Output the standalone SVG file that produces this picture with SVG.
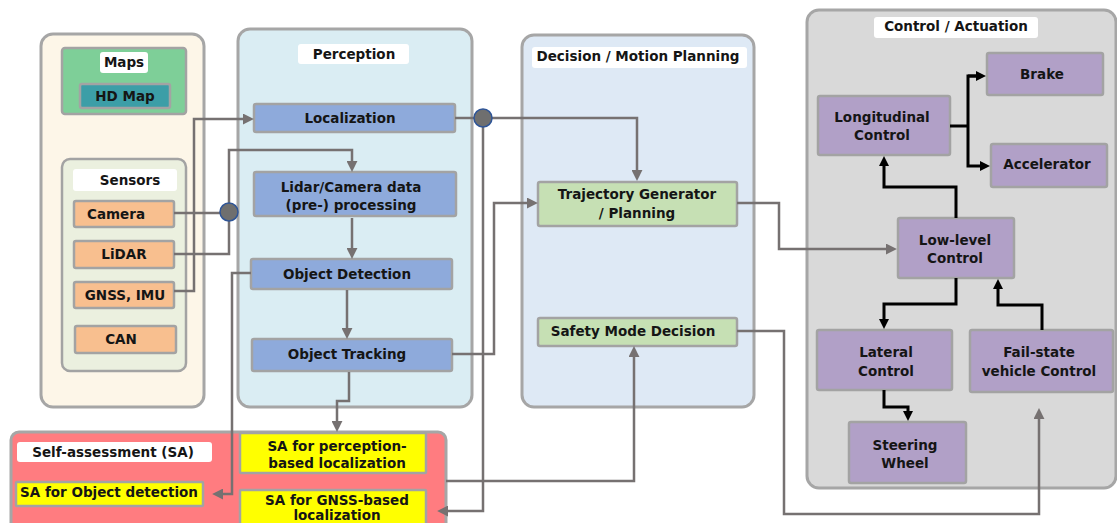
<svg xmlns="http://www.w3.org/2000/svg" width="1117" height="523" viewBox="0 0 1117 523">
<style>
text{font-family:"DejaVu Sans","Liberation Sans",sans-serif;font-weight:bold;font-size:13.5px;fill:#151515;text-anchor:middle}
.panel{stroke:#a6a6a6;stroke-width:3}
.box{stroke:#a3a3a3;stroke-width:2.5}
.lbl{fill:#ffffff}
.c{fill:none;stroke:#767171;stroke-width:2.5}
.k{fill:none;stroke:#000000;stroke-width:3}
.sens{fill:#f8bf8f}
.per{fill:#8eaadb}
.dec{fill:#c6e0b4}
.ctl{fill:#b1a0c7}
.sa{fill:#ffff00}
</style>
<defs>
<marker id="ag" viewBox="0 0 10 10" refX="1" refY="5" markerWidth="11" markerHeight="11" markerUnits="userSpaceOnUse" orient="auto"><path d="M0,0 L10,5 L0,10 z" fill="#767171"/></marker>
<marker id="ak" viewBox="0 0 10 10" refX="1" refY="5" markerWidth="10" markerHeight="10" markerUnits="userSpaceOnUse" orient="auto"><path d="M0,0 L10,5 L0,10 z" fill="#000000"/></marker>
</defs>

<!-- panels -->
<g id="panel-left"><rect class="panel" x="41" y="34" width="163" height="373" rx="12" fill="#fdf6e8"/></g>
<g id="panel-perception"><rect class="panel" x="238" y="29" width="234" height="378" rx="12" fill="#daedf3"/><rect class="lbl" x="298" y="44" width="111" height="20" rx="3"/><text x="354" y="59">Perception</text></g>
<g id="panel-decision"><rect class="panel" x="522" y="35" width="232" height="372" rx="12" fill="#dee9f5"/><rect class="lbl" x="532" y="47" width="215" height="21" rx="3"/><text x="638" y="61">Decision / Motion Planning</text></g>
<g id="panel-control"><rect class="panel" x="807" y="10" width="309" height="478" rx="12" fill="#d9d9d9"/><rect class="lbl" x="874" y="17" width="164" height="21" rx="3"/><text x="956" y="31">Control / Actuation</text></g>
<g id="panel-sa"><rect class="panel" x="11" y="432" width="435" height="110" rx="8" fill="#ff7c80"/><rect class="lbl" x="17" y="442" width="195" height="20" rx="3"/><text x="113" y="457">Self-assessment (SA)</text></g>

<!-- left -->
<g id="maps"><rect class="box" x="62" y="48" width="124" height="66" rx="3" fill="#7ecf98"/><rect class="lbl" x="100" y="52" width="48" height="21" rx="3"/><text x="124" y="67">Maps</text></g>
<g id="hd-map"><rect class="box" x="80" y="84" width="90" height="24" rx="2" fill="#3c9ea7"/><text x="125" y="101">HD Map</text></g>
<g id="sensors"><rect class="box" x="62" y="159" width="124" height="212" rx="8" fill="#ebf0df"/><rect class="lbl" x="73" y="169" width="104" height="22" rx="3"/><text x="130" y="185">Sensors</text></g>
<g id="camera"><rect class="box sens" x="74" y="201" width="100" height="26" rx="2"/><text x="116" y="219">Camera</text></g>
<g id="lidar"><rect class="box sens" x="74" y="241" width="100" height="27" rx="2"/><text x="124" y="259">LiDAR</text></g>
<g id="gnss"><rect class="box sens" x="74" y="282" width="100" height="26" rx="2"/><text x="125" y="300">GNSS, IMU</text></g>
<g id="can"><rect class="box sens" x="75" y="326" width="101" height="27" rx="2"/><text x="121" y="344">CAN</text></g>

<!-- perception -->
<g id="localization"><rect class="box per" x="254" y="104" width="201" height="28" rx="2"/><text x="350" y="123">Localization</text></g>
<g id="preprocessing"><rect class="box per" x="254" y="172" width="202" height="44" rx="2"/><text x="351" y="192">Lidar/Camera data</text><text x="351" y="210">(pre-) processing</text></g>
<g id="object-detection"><rect class="box per" x="251" y="259" width="201" height="30" rx="2"/><text x="347" y="279">Object Detection</text></g>
<g id="object-tracking"><rect class="box per" x="252" y="339" width="200" height="32" rx="2"/><text x="347" y="359">Object Tracking</text></g>

<!-- decision -->
<g id="trajectory"><rect class="box dec" x="538" y="182" width="199" height="44" rx="2"/><text x="637" y="199">Trajectory Generator</text><text x="637" y="218">/ Planning</text></g>
<g id="safety-mode"><rect class="box dec" x="538" y="318" width="199" height="28" rx="2"/><text x="633" y="336">Safety Mode Decision</text></g>

<!-- control -->
<g id="brake"><rect class="box ctl" x="987" y="53" width="116" height="42" rx="2"/><text x="1042" y="79">Brake</text></g>
<g id="longitudinal"><rect class="box ctl" x="818" y="96" width="132" height="59" rx="2"/><text x="882" y="122">Longitudinal</text><text x="882" y="140">Control</text></g>
<g id="accelerator"><rect class="box ctl" x="991" y="144" width="116" height="43" rx="2"/><text x="1047" y="169">Accelerator</text></g>
<g id="low-level"><rect class="box ctl" x="898" y="218" width="116" height="60" rx="2"/><text x="955" y="245">Low-level</text><text x="955" y="263">Control</text></g>
<g id="lateral"><rect class="box ctl" x="817" y="330" width="135" height="60" rx="2"/><text x="886" y="357">Lateral</text><text x="886" y="376">Control</text></g>
<g id="fail-state"><rect class="box ctl" x="970" y="330" width="143" height="62" rx="2"/><text x="1039" y="357">Fail-state</text><text x="1039" y="376">vehicle Control</text></g>
<g id="steering"><rect class="box ctl" x="849" y="422" width="117" height="61" rx="2"/><text x="905" y="450">Steering</text><text x="905" y="468">Wheel</text></g>

<!-- SA -->
<g id="sa-perception"><rect class="box sa" x="240" y="433" width="186" height="40" rx="1"/><text x="337" y="451">SA for perception-</text><text x="337" y="468">based localization</text></g>
<g id="sa-object"><rect class="box sa" x="16" y="482" width="187" height="24" rx="1"/><text x="109" y="497">SA for Object detection</text></g>
<g id="sa-gnss"><rect class="box sa" x="240" y="490" width="186" height="50" rx="1"/><text x="337" y="505">SA for GNSS-based</text><text x="337" y="520">localization</text></g>

<!-- connectors -->
<g id="connectors">
<path class="c" d="M174,213 H229"/>
<path class="c" d="M174,254 H229 V212"/>
<path class="c" d="M229,212 V150 H352 V162" marker-end="url(#ag)"/>
<path class="c" d="M174,291 H194 V119 H244" marker-end="url(#ag)"/>
<path class="c" d="M455,118 H483"/>
<path class="c" d="M483,118 H637 V171" marker-end="url(#ag)"/>
<path class="c" d="M483,118 V511 H447" marker-end="url(#ag)"/>
<path class="c" d="M352,218 V249" marker-end="url(#ag)"/>
<path class="c" d="M347,290 V329" marker-end="url(#ag)"/>
<path class="c" d="M251,273 H232 V494 H222" marker-end="url(#ag)"/>
<path class="c" d="M452,354 H494 V203 H528" marker-end="url(#ag)"/>
<path class="c" d="M349,372 V401 H337 V422" marker-end="url(#ag)"/>
<path class="c" d="M446,481 H634 V356" marker-end="url(#ag)"/>
<path class="c" d="M737,203 H779 V249 H887" marker-end="url(#ag)"/>
<path class="c" d="M737,331 H784 V514 H1039 V418" marker-end="url(#ag)"/>
<circle cx="229" cy="212" r="9" fill="#6f6f6f" stroke="#2f5597" stroke-width="1.5"/>
<circle cx="483" cy="118" r="9" fill="#6f6f6f" stroke="#2f5597" stroke-width="1.5"/>
<path class="k" d="M950,126 H968"/>
<path class="k" d="M977,76 H968 V166 H981" marker-end="url(#ak)"/>
<path class="k" d="M968,76 H977" marker-end="url(#ak)"/>
<path class="k" d="M956,218 V187 H884 V165" marker-end="url(#ak)"/>
<path class="k" d="M956,278 V304 H884 V320" marker-end="url(#ak)"/>
<path class="k" d="M1042,330 V305 H998 V288" marker-end="url(#ak)"/>
<path class="k" d="M884,390 V407 H908 V412" marker-end="url(#ak)"/>
</g>
</svg>
